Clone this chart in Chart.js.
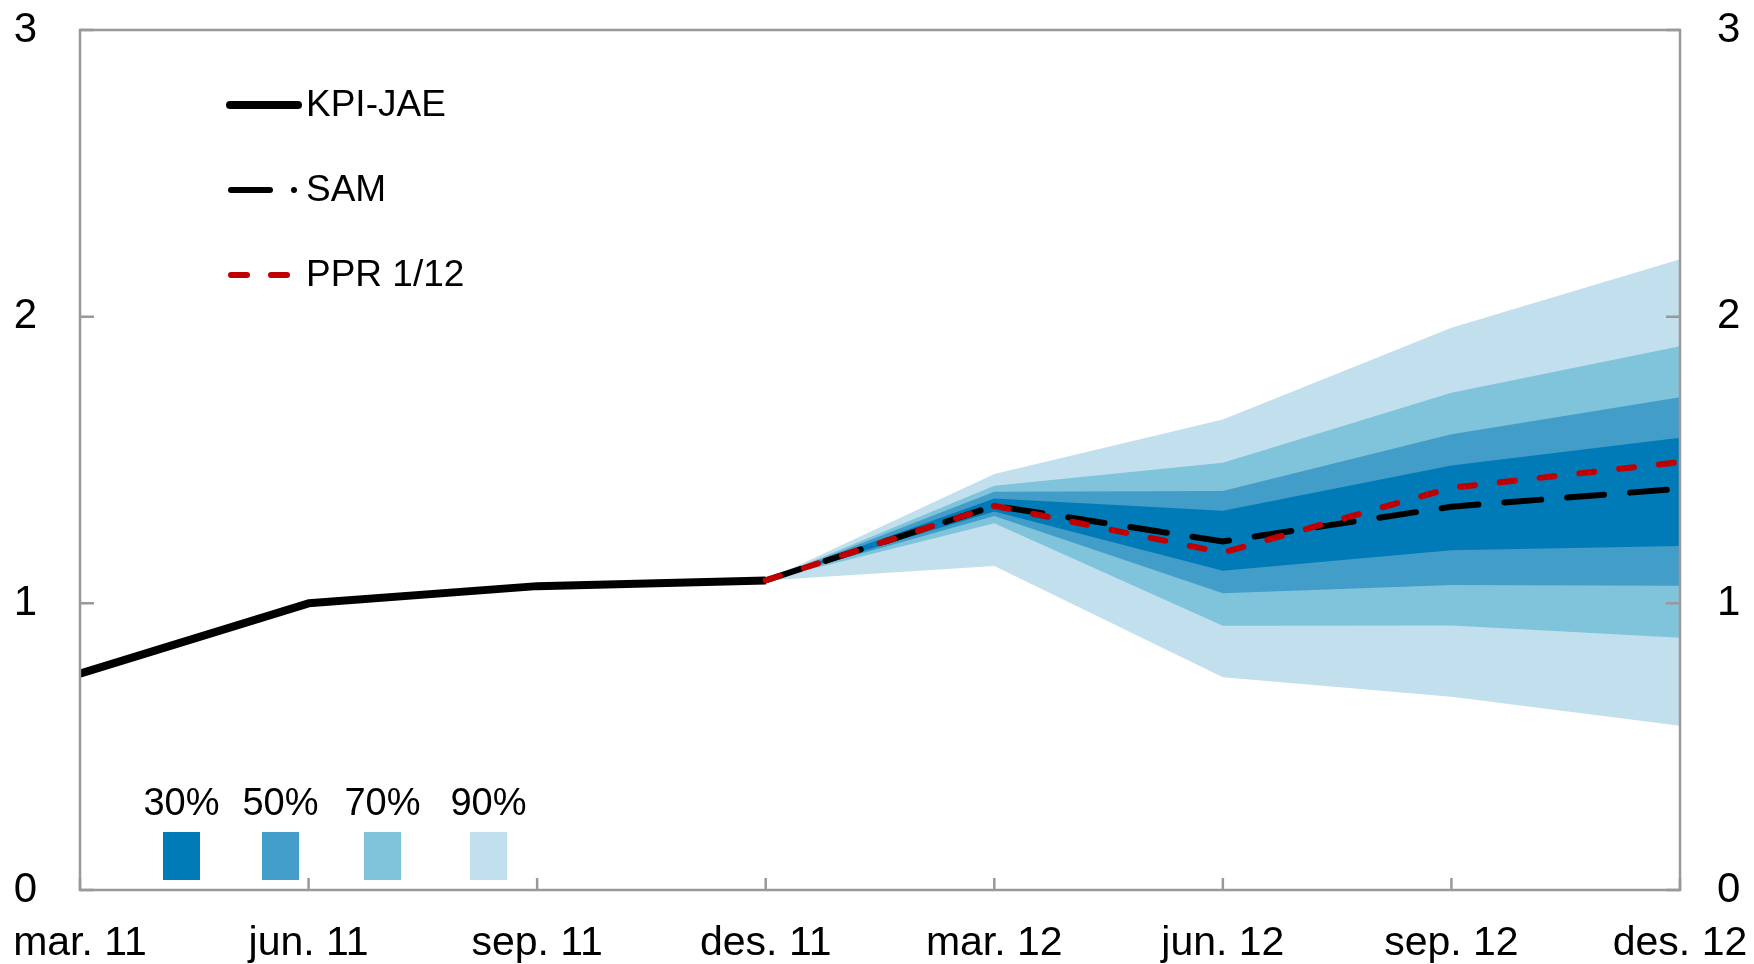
<!DOCTYPE html>
<html><head><meta charset="utf-8">
<script src="https://cdn.jsdelivr.net/npm/chart.js@4/dist/chart.umd.min.js"></script>
<style>html,body{margin:0;padding:0;background:#fff}#wrap{width:1754px;height:964px;position:relative}</style>
</head><body><div id="wrap"><canvas id="c"></canvas></div>
<script>
const categories = ['mar. 11','jun. 11','sep. 11','des. 11','mar. 12','jun. 12','sep. 12','des. 12'];
const kpiJae = [0.755, 1.00, 1.06, 1.08, null, null, null, null];
const sam    = [null, null, null, 1.08, 1.34, 1.216, 1.337, 1.40];
const ppr    = [null, null, null, 1.08, 1.34, 1.177, 1.403, 1.493];
const band30Upper = [null, null, null, 1.08, 1.366, 1.323, 1.481, 1.578];
const band30Lower = [null, null, null, 1.08, 1.320, 1.114, 1.185, 1.200];
const band50Upper = [null, null, null, 1.08, 1.389, 1.392, 1.590, 1.719];
const band50Lower = [null, null, null, 1.08, 1.305, 1.035, 1.064, 1.061];
const band70Upper = [null, null, null, 1.08, 1.410, 1.490, 1.735, 1.897];
const band70Lower = [null, null, null, 1.08, 1.279, 0.922, 0.923, 0.880];
const band90Upper = [null, null, null, 1.08, 1.451, 1.641, 1.961, 2.200];
const band90Lower = [null, null, null, 1.08, 1.130, 0.742, 0.674, 0.573];
const yTickValues = [0, 1, 2, 3];
const seriesNames = ['KPI-JAE', 'SAM', 'PPR 1/12'];
const bandLabels = ['30%', '50%', '70%', '90%'];
const bandColors = ['#007BB7', '#439DC9', '#7FC4DB', '#C2DFEE'];

const FONT = "'Liberation Sans', Arial, sans-serif";

function band(data, fillTarget, color, order) {
  return { data, borderWidth: 0, pointRadius: 0, backgroundColor: color,
           fill: fillTarget === null ? false : fillTarget, order, spanGaps: false };
}

const overlay = {
  id: 'overlay',
  afterDraw(chart) {
    const { ctx, chartArea: a, scales } = chart;
    ctx.save();
    ctx.strokeStyle = '#999999';
    ctx.lineWidth = 2.5;
    ctx.strokeRect(a.left, a.top, a.right - a.left, a.bottom - a.top);
    ctx.beginPath();
    scales.x.ticks.forEach((t, i) => {
      const x = scales.x.getPixelForTick(i);
      ctx.moveTo(x, a.bottom); ctx.lineTo(x, a.bottom - 12);
    });
    scales.y.ticks.forEach(t => {
      const y = scales.y.getPixelForValue(t.value);
      ctx.moveTo(a.left, y); ctx.lineTo(a.left + 14, y);
      ctx.moveTo(a.right, y); ctx.lineTo(a.right - 14, y);
    });
    ctx.stroke();

    // line legend
    const lx0 = a.left + 148, lx1 = a.left + 220, tx = a.left + 226;
    const rows = [a.top + 75, a.top + 160, a.top + 245];
    ctx.lineCap = 'round';
    ctx.strokeStyle = '#000'; ctx.lineWidth = 8;
    ctx.beginPath(); ctx.moveTo(lx0 + 2, rows[0]); ctx.lineTo(lx1 - 2, rows[0]); ctx.stroke();
    ctx.lineWidth = 6;
    ctx.beginPath(); ctx.moveTo(lx0 + 3, rows[1]); ctx.lineTo(lx0 + 42, rows[1]); ctx.stroke();
    ctx.beginPath(); ctx.arc(lx0 + 66, rows[1], 3, 0, Math.PI * 2); ctx.fillStyle = '#000'; ctx.fill();
    ctx.strokeStyle = '#C00000';
    ctx.beginPath(); ctx.moveTo(lx0 + 3, rows[2]); ctx.lineTo(lx0 + 19, rows[2]);
    ctx.moveTo(lx0 + 43, rows[2]); ctx.lineTo(lx0 + 59, rows[2]); ctx.stroke();
    ctx.fillStyle = '#000';
    ctx.font = '37px ' + FONT;
    ctx.textBaseline = 'middle'; ctx.textAlign = 'left';
    seriesNames.forEach((n, i) => ctx.fillText(n, tx, rows[i] + 1));

    // fan legend
    const sq = [83, 182, 284, 390];
    ctx.font = '38px ' + FONT;
    ctx.textAlign = 'center';
    bandLabels.forEach((lab, i) => {
      const x = a.left + sq[i];
      ctx.fillStyle = bandColors[i];
      ctx.fillRect(x, a.bottom - 58, 37, 48);
      ctx.fillStyle = '#000';
      ctx.fillText(lab, x + 18.5, a.bottom - 85);
    });
    ctx.restore();
  }
};

new Chart(document.getElementById('c'), {
  type: 'line',
  data: {
    labels: categories,
    datasets: [
      { label: seriesNames[2], data: ppr, borderColor: '#C00000', borderWidth: 6, borderDash: [15, 25],
        borderCapStyle: 'round', pointRadius: 0, fill: false, order: 0, tension: 0 },
      { label: seriesNames[1], data: sam, borderColor: '#000000', borderWidth: 6, borderDash: [37, 26],
        borderCapStyle: 'round', pointRadius: 0, fill: false, order: 0, tension: 0 },
      { label: seriesNames[0], data: kpiJae, borderColor: '#000000', borderWidth: 8,
        borderCapStyle: 'butt', borderJoinStyle: 'round', pointRadius: 0, fill: false, order: 0, tension: 0 },
      band(band30Upper, 4, bandColors[0], 1),
      band(band30Lower, null, bandColors[0], 1),
      band(band50Upper, 6, bandColors[1], 2),
      band(band50Lower, null, bandColors[1], 2),
      band(band70Upper, 8, bandColors[2], 3),
      band(band70Lower, null, bandColors[2], 3),
      band(band90Upper, 10, bandColors[3], 4),
      band(band90Lower, null, bandColors[3], 4)
    ]
  },
  options: {
    responsive: true, maintainAspectRatio: false, animation: false,
    layout: { padding: { top: 30, left: 0, right: 0, bottom: 0 } },
    plugins: { legend: { display: false }, tooltip: { enabled: false } },
    events: [],
    scales: {
      x: {
        type: 'category', offset: false,
        grid: { display: false, drawTicks: false }, border: { display: false },
        ticks: { color: '#000', font: { family: FONT, size: 41 }, padding: 29, maxRotation: 0, autoSkip: false },
        afterFit(s) { s.height = 74; s.paddingLeft = 0; s.paddingRight = 0; }
      },
      y: {
        position: 'left', min: 0, max: 3,
        afterBuildTicks(s) { s.ticks = yTickValues.map(v => ({ value: v })); },
        grid: { display: false, drawTicks: false }, border: { display: false },
        ticks: { color: '#000', font: { family: FONT, size: 42 }, padding: 43 },
        afterFit(s) { s.width = 80; s.paddingTop = 0; s.paddingBottom = 0; }
      },
      y2: {
        position: 'right', min: 0, max: 3,
        afterBuildTicks(s) { s.ticks = yTickValues.map(v => ({ value: v })); },
        grid: { display: false, drawTicks: false }, border: { display: false },
        ticks: { color: '#000', font: { family: FONT, size: 42 }, padding: 37 },
        afterFit(s) { s.width = 74; s.paddingTop = 0; s.paddingBottom = 0; }
      }
    }
  },
  plugins: [overlay]
});
</script>
</body></html>
